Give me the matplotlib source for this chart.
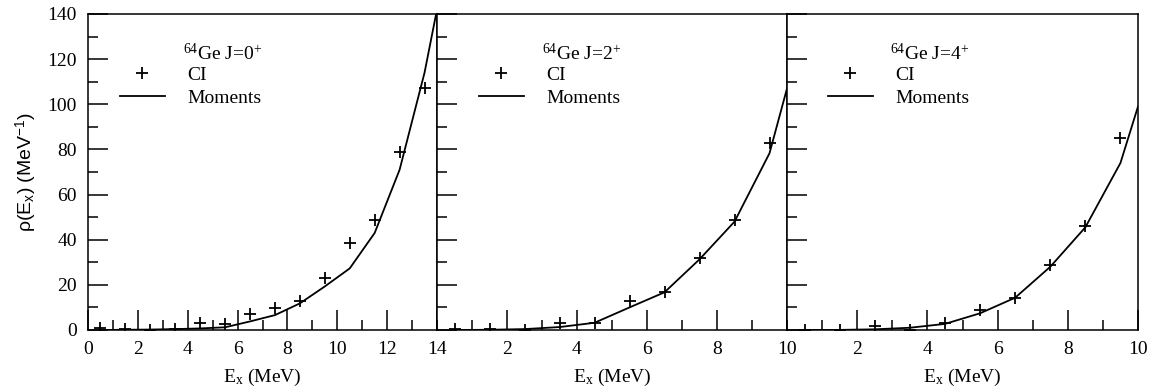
import matplotlib
matplotlib.use("Agg")
import matplotlib.pyplot as plt
from matplotlib.ticker import MultipleLocator

plt.rcParams['font.family'] = ['Liberation Serif', 'DejaVu Serif']
plt.rcParams['mathtext.fontset'] = 'custom'
plt.rcParams['mathtext.rm'] = 'Liberation Serif'
plt.rcParams['mathtext.it'] = 'Liberation Serif:italic'
plt.rcParams['mathtext.sf'] = 'Liberation Sans'

# ---- data ----
titles = [r"$^{64}$Ge J=0$^{+}$", r"$^{64}$Ge J=2$^{+}$", r"$^{64}$Ge J=4$^{+}$"]
xmax = [14, 10, 10]

ci_x0 = [0.5, 1.5, 2.5, 3.5, 4.5, 5.5, 6.5, 7.5, 8.5, 9.5, 10.5, 11.5, 12.5, 13.5]
ci_y0 = [0.7, 0.5, 0.0, 0.3, 3.0, 2.7, 7.0, 9.7, 12.8, 23.0, 38.7, 48.7, 79.0, 107.0]
mom_x0 = [0.5, 1.5, 2.5, 3.5, 4.5, 5.5, 6.5, 7.5, 8.5, 9.5, 10.5, 11.5, 12.5, 13.5, 14.0]
mom_y0 = [0.0, 0.1, 0.2, 0.4, 0.7, 1.2, 3.8, 6.6, 11.8, 19.3, 27.3, 43.0, 71.0, 114.0, 142.0]

ci_x2 = [0.5, 1.5, 2.5, 3.5, 4.5, 5.5, 6.5, 7.5, 8.5, 9.5]
ci_y2 = [0.4, 0.3, 0.0, 3.0, 3.2, 12.8, 17.0, 32.0, 48.7, 83.0]
mom_x2 = [0.5, 1.5, 2.5, 3.5, 4.5, 5.5, 6.5, 7.5, 8.5, 9.5, 10.0]
mom_y2 = [0.0, 0.1, 0.4, 1.3, 3.2, 10.0, 16.7, 31.3, 48.0, 78.3, 107.0]

ci_x4 = [0.5, 1.5, 2.5, 3.5, 4.5, 5.5, 6.5, 7.5, 8.5, 9.5]
ci_y4 = [0.0, 0.0, 1.8, 0.1, 3.0, 8.9, 14.0, 28.8, 46.0, 85.0]
mom_x4 = [0.5, 1.5, 2.5, 3.5, 4.5, 5.5, 6.5, 7.5, 8.5, 9.5, 10.0]
mom_y4 = [0.0, 0.05, 0.3, 1.0, 2.7, 7.4, 14.3, 28.0, 45.5, 74.0, 99.0]

panels = [(ci_x0, ci_y0, mom_x0, mom_y0),
          (ci_x2, ci_y2, mom_x2, mom_y2),
          (ci_x4, ci_y4, mom_x4, mom_y4)]

# ---- layout ----
W, H = 1152, 390
lefts_px = [88, 437, 787]
rights_px = [437, 787, 1138]
top_px, bot_px = 14, 330
leg_x = [0.092, 0.12, 0.117]
title_x = [0.272, 0.30, 0.293]

fig = plt.figure(figsize=(W / 100, H / 100), dpi=100)
fs = 14

for i, (cx, cy, mx, my) in enumerate(panels):
    ax = fig.add_axes([lefts_px[i] / W, 1 - bot_px / H,
                       (rights_px[i] - lefts_px[i]) / W, (bot_px - top_px) / H])
    ax.plot(mx, my, color='black', lw=1.3, label='Moments', zorder=2)
    ax.plot(cx, cy, linestyle='none', marker='+', ms=9, mew=1.3,
            color='black', label='CI', zorder=3)
    ax.set_xlim(0, xmax[i])
    ax.set_ylim(0, 140)
    ax.xaxis.set_major_locator(MultipleLocator(2))
    ax.xaxis.set_minor_locator(MultipleLocator(1))
    ax.yaxis.set_major_locator(MultipleLocator(20))
    ax.yaxis.set_minor_locator(MultipleLocator(10))
    ax.tick_params(which='both', direction='in', top=False, right=False,
                   width=1.1, labelsize=fs)
    ax.tick_params(which='major', length=14.4, pad=8)
    ax.tick_params(which='minor', length=7.2)
    for s in ax.spines.values():
        s.set_linewidth(1.1)
    if i == 0:
        ax.set_xticks(range(0, 15, 2))
        ax.set_ylabel(r"ρ(E$_{\mathsf{x}}$) (MeV$^{\mathsf{-1}}$)",
                      family='Liberation Sans', fontsize=fs, labelpad=6)
    else:
        ax.set_xticks(range(2, 11, 2))
        ax.tick_params(axis='y', labelleft=False)
    ax.set_xlabel(r"E$_{\mathrm{x}}$ (MeV)", fontsize=fs, labelpad=6)
    ax.text(title_x[i], 0.876, titles[i], transform=ax.transAxes,
            fontsize=fs, va='center', ha='left')
    h, l = ax.get_legend_handles_labels()
    ax.legend([h[1], h[0]], [l[1], l[0]], loc='upper left',
              bbox_to_anchor=(leg_x[i], 0.835), frameon=False,
              fontsize=fs, borderpad=0, borderaxespad=0,
              handlelength=2.3, handletextpad=1.15, labelspacing=0.3)

fig.savefig("out.png", dpi=100)
